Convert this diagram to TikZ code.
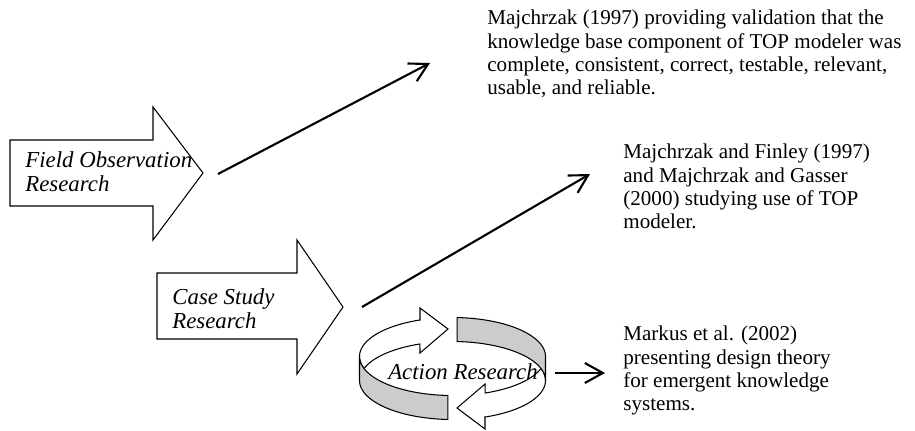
\documentclass[tikz,border=0pt]{standalone}
\usepackage{fontspec}
\setmainfont{Liberation Serif}
\usetikzlibrary{arrows.meta}
\definecolor{rGray}{HTML}{CCCCCC}

% one half of the circular arrow (white arrow at the back, grey band in front)
\newcommand{\ringhalf}{%
  \filldraw[fill=white] (-4.5,39.5) -- (-32.5,60.5) -- (-32.5,48.5)
    -- plot[domain=110.5:198] ({93*cos(\x)},{12+39*sin(\x)})
    -- plot[domain=162:110.5] ({93*cos(\x)},{-12+39*sin(\x)})
    -- (-32.5,15.5) -- cycle;
  \filldraw[fill=rGray] plot[domain=180:267.2] ({93*cos(\x)},{12+39*sin(\x)})
    -- plot[domain=267.2:180] ({93*cos(\x)},{-12+39*sin(\x)}) -- cycle;
}

\begin{document}
\begin{tikzpicture}[x=0.02cm, y=-0.02cm,
  blockarr/.style={draw, line width=0.6pt, fill=white},
  ring/.style={line width=0.6pt, samples=40},
  lbl/.style={inner sep=0pt, align=left,
              font=\fontsize{13}{13.6}\selectfont\itshape},
  note/.style={anchor=north west, inner sep=0pt, align=left,
               font=\fontsize{12}{13.2}\selectfont},
  link/.style={line width=1.2pt, -{Straight Barb[length=3.6mm, width=4mm]}},
]
  \useasboundingbox (0,0) rectangle (915,430);

  % research methods
  \draw[blockarr] (10,140) -- (153,140) -- (153,107) -- (203,173)
    -- (153,240) -- (153,206) -- (10,206) -- cycle;
  \node[lbl, anchor=north west] (field) at (25,151) {Field Observation\\Research};

  \draw[blockarr] (157,273) -- (297,273) -- (297,240) -- (343,307)
    -- (297,374) -- (297,339) -- (157,339) -- cycle;
  \node[lbl, anchor=north west] (case) at (172,288) {Case Study\\Research};

  \begin{scope}[ring, shift={(452.5,368.5)}, yscale=-1]
    \ringhalf
  \end{scope}
  \begin{scope}[ring, shift={(452.5,368.5)}, yscale=-1, rotate=180]
    \ringhalf
  \end{scope}
  \node[lbl] (action) at (463,372) {Action Research};

  % results
  \node[note] (res1) at (487,10) {Majchrzak (1997) providing validation that the\\
    knowledge base component of TOP modeler was\\
    complete, consistent, correct, testable, relevant,\\
    usable, and reliable.};
  \node[note] (res2) at (623,144) {Majchrzak and Finley (1997)\\
    and Majchrzak and Gasser\\
    (2000) studying use of TOP\\
    modeler.};
  \node[note] (res3) at (623,326) {Markus et al. (2002)\\
    presenting design theory\\
    for emergent knowledge\\
    systems.};

  \coordinate (s1) at (218,174);
  \coordinate (e1) at (430,63);
  \coordinate (s2) at (362,307);
  \coordinate (e2) at (590,174);
  \coordinate (s3) at (555,373);
  \coordinate (e3) at (605,373);
  \draw[link] (s1) -- (e1);
  \draw[link] (s2) -- (e2);
  \draw[link] (s3) -- (e3);
\end{tikzpicture}
\end{document}
